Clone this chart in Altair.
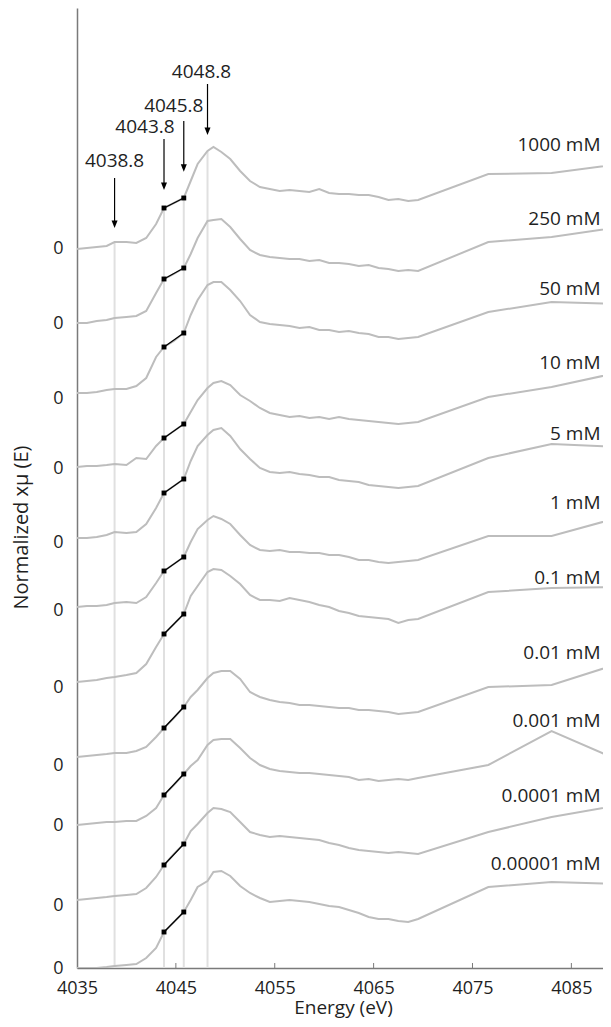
import altair as alt
import pandas as pd

# ---------------- data ----------------
energy = [4035, 4036, 4037, 4038, 4038.8, 4040, 4041, 4042, 4043, 4043.8,
          4044.8, 4045.8, 4046.5, 4047.2, 4048.2, 4048.8, 4049.6, 4050.5, 4051.5, 4052.5,
          4053.5, 4054.5, 4055.5, 4056.5, 4057.5, 4058.5, 4059.5, 4060.5, 4061.5, 4062.5,
          4063.5, 4064.5, 4065.5, 4066.5, 4067.5, 4068.5, 4069.5, 4076.6, 4083.0, 4090.0]

series_names = ["1000 mM", "250 mM", "50 mM", "10 mM", "5 mM", "1 mM", "0.1 mM",
                "0.01 mM", "0.001 mM", "0.0001 mM", "0.00001 mM"]

# vertical offset of each stacked spectrum
offsets = [7.19, 6.45, 5.75, 5.01, 4.30, 3.61, 2.86, 2.11, 1.43, 0.68, 0.00]

h_1000 = [0.00, 0.01, 0.02, 0.03, 0.07, 0.07, 0.06, 0.11, 0.25, 0.41, 0.46, 0.51, 0.68, 0.85, 0.98, 1.02, 0.97, 0.90, 0.78, 0.68,
          0.62, 0.60, 0.58, 0.59, 0.58, 0.57, 0.60, 0.56, 0.55, 0.55, 0.54, 0.54, 0.52, 0.49, 0.50, 0.48, 0.49, 0.75, 0.76, 0.85]
h_250 = [0.00, 0.00, 0.02, 0.03, 0.05, 0.06, 0.07, 0.12, 0.30, 0.44, 0.49, 0.55, 0.69, 0.85, 1.02, 1.03, 1.04, 0.96, 0.84, 0.73,
         0.68, 0.66, 0.65, 0.64, 0.64, 0.62, 0.63, 0.60, 0.60, 0.59, 0.57, 0.58, 0.55, 0.54, 0.52, 0.53, 0.52, 0.81, 0.86, 0.96]
h_50 = [0.00, 0.00, 0.01, 0.03, 0.04, 0.04, 0.07, 0.15, 0.36, 0.46, 0.52, 0.60, 0.78, 0.93, 1.08, 1.11, 1.11, 1.03, 0.92, 0.78,
        0.71, 0.69, 0.68, 0.67, 0.65, 0.66, 0.63, 0.63, 0.61, 0.62, 0.60, 0.59, 0.56, 0.56, 0.54, 0.55, 0.56, 0.81, 0.91, 0.89]
h_10 = [0.00, 0.01, 0.01, 0.02, 0.03, 0.02, 0.09, 0.08, 0.21, 0.29, 0.36, 0.43, 0.55, 0.67, 0.79, 0.84, 0.86, 0.82, 0.72, 0.66,
        0.59, 0.54, 0.52, 0.50, 0.51, 0.49, 0.50, 0.48, 0.50, 0.48, 0.47, 0.46, 0.45, 0.44, 0.43, 0.44, 0.45, 0.70, 0.80, 0.95]
h_5 = [0.00, 0.00, 0.01, 0.03, 0.06, 0.05, 0.06, 0.14, 0.30, 0.45, 0.52, 0.59, 0.77, 0.92, 1.03, 1.08, 1.10, 1.02, 0.89, 0.79,
       0.70, 0.66, 0.65, 0.66, 0.64, 0.63, 0.61, 0.61, 0.58, 0.57, 0.56, 0.53, 0.52, 0.51, 0.50, 0.51, 0.52, 0.80, 0.94, 0.91]
h_1 = [0.00, 0.01, 0.01, 0.02, 0.04, 0.05, 0.04, 0.10, 0.24, 0.36, 0.43, 0.50, 0.65, 0.78, 0.87, 0.91, 0.88, 0.83, 0.72, 0.62,
       0.57, 0.56, 0.57, 0.55, 0.55, 0.54, 0.54, 0.52, 0.52, 0.50, 0.47, 0.47, 0.45, 0.44, 0.45, 0.46, 0.47, 0.71, 0.71, 0.90]
h_0p1 = [0.00, 0.01, 0.02, 0.04, 0.05, 0.07, 0.09, 0.18, 0.35, 0.48, 0.58, 0.68, 0.86, 0.96, 1.10, 1.13, 1.12, 1.06, 0.98, 0.87,
         0.82, 0.82, 0.81, 0.84, 0.82, 0.80, 0.77, 0.75, 0.71, 0.69, 0.66, 0.65, 0.64, 0.63, 0.59, 0.62, 0.63, 0.90, 0.94, 0.95]
h_0p01 = [0.00, 0.01, 0.02, 0.03, 0.04, 0.04, 0.06, 0.10, 0.20, 0.29, 0.39, 0.50, 0.60, 0.67, 0.79, 0.84, 0.86, 0.86, 0.78, 0.65,
          0.60, 0.57, 0.55, 0.54, 0.52, 0.52, 0.51, 0.50, 0.49, 0.49, 0.47, 0.47, 0.46, 0.45, 0.43, 0.44, 0.45, 0.70, 0.72, 0.94]
h_0p001 = [0.00, 0.01, 0.02, 0.03, 0.03, 0.04, 0.04, 0.09, 0.17, 0.30, 0.40, 0.51, 0.59, 0.65, 0.80, 0.85, 0.86, 0.86, 0.77, 0.67,
           0.60, 0.56, 0.54, 0.53, 0.52, 0.52, 0.51, 0.50, 0.49, 0.48, 0.45, 0.46, 0.44, 0.45, 0.46, 0.45, 0.47, 0.60, 0.94, 0.64]
h_0p0001 = [0.00, 0.01, 0.02, 0.03, 0.04, 0.05, 0.06, 0.12, 0.23, 0.35, 0.46, 0.56, 0.69, 0.76, 0.87, 0.92, 0.91, 0.88, 0.78, 0.68,
            0.65, 0.63, 0.64, 0.63, 0.62, 0.61, 0.60, 0.57, 0.55, 0.52, 0.50, 0.49, 0.48, 0.47, 0.48, 0.47, 0.46, 0.68, 0.83, 0.95]
h_0p00001 = [0.00, 0.00, 0.00, 0.01, 0.02, 0.03, 0.04, 0.10, 0.20, 0.36, 0.46, 0.56, 0.68, 0.81, 0.87, 0.96, 0.97, 0.92, 0.82, 0.75,
             0.70, 0.66, 0.67, 0.68, 0.67, 0.66, 0.64, 0.62, 0.61, 0.58, 0.55, 0.51, 0.49, 0.49, 0.47, 0.46, 0.49, 0.81, 0.86, 0.84]

heights = [h_1000, h_250, h_50, h_10, h_5, h_1, h_0p1, h_0p01, h_0p001, h_0p0001, h_0p00001]

marker_energies = [4043.8, 4045.8]
guide_energies = [4038.8, 4043.8, 4045.8, 4048.2]
guide_labels = ["4038.8", "4043.8", "4045.8", "4048.8"]

x_ticks = [4035, 4045, 4055, 4065, 4075, 4085]
zero_ticks = [7.20, 6.45, 5.70, 5.00, 4.26, 3.58, 2.81, 2.03, 1.43, 0.63, 0.00]

# ---------------- tables ----------------
rows = []
for name, off, h in zip(series_names, offsets, heights):
    for e, v in zip(energy, h):
        rows.append({"series": name, "E": e, "y": off + v})
df = pd.DataFrame(rows)
mk = df[df["E"].isin(marker_energies)]
guides = df[(df["series"] == series_names[0]) & (df["E"].isin(guide_energies))]
labels_df = pd.DataFrame({"series": series_names, "y": [o + 1.04 for o in offsets]})
ticks_df = pd.DataFrame({"E": x_ticks[1:]})

# ---------------- style ----------------
FONT = "Open Sans"
TXT = "#1f1f1f"
AX = "#7a7a7a"
PLOT_W, PLOT_H = 526, 960

xscale = alt.Scale(domain=[4035, 4088.2], nice=False, zero=False)
yscale = alt.Scale(domain=[0, 9.6], nice=False, zero=False)

xaxis = alt.Axis(values=x_ticks, format="d", ticks=False, tickSize=0, grid=False,
                 domainColor=AX, domainWidth=1.5, labelFont=FONT, labelFontSize=18,
                 labelColor=TXT, labelPadding=11, labelFlush=False,
                 titleFont=FONT, titleFontSize=19, titleColor=TXT, titleFontWeight="normal",
                 titleX=266, titleY=45, titleBaseline="alphabetic")
yaxis = alt.Axis(values=zero_ticks, labelExpr="'0'", ticks=False, tickSize=0, grid=False,
                 domainColor=AX, domainWidth=1.5, labelFont=FONT, labelFontSize=18,
                 labelColor=TXT, labelPadding=14, labelFlush=False, labelOverlap=False,
                 titleFont=FONT, titleFontSize=20, titleColor=TXT, titleFontWeight="normal",
                 titleX=-56, titleY=519, titleBaseline="middle", titleAngle=270)

X = alt.X("E:Q", scale=xscale, axis=xaxis, title="Energy (eV)")
Y = alt.Y("y:Q", scale=yscale, axis=yaxis, title="Normalized xμ (E)")

guide_layer = alt.Chart(guides).mark_rule(color="#e0e0e0", strokeWidth=2).encode(
    x=X, y=Y, y2=alt.value(PLOT_H))

curve_layer = alt.Chart(df).mark_line(color="#bdbdbd", strokeWidth=2, clip=True).encode(
    x=X, y=Y, detail="series:N")

seg_layer = alt.Chart(mk).mark_line(color="black", strokeWidth=1.3).encode(
    x=X, y=Y, detail="series:N")
sq_layer = alt.Chart(mk).mark_point(shape="square", filled=True, size=24, color="black",
                                    opacity=1).encode(x=X, y=Y)

tick_layer = alt.Chart(ticks_df).mark_rule(color=AX, strokeWidth=1).encode(
    x=X, y=alt.value(PLOT_H), y2=alt.value(PLOT_H - 5))

label_layer = alt.Chart(labels_df).mark_text(
    align="right", baseline="middle", font=FONT, fontSize=19, color=TXT).encode(
    x=alt.value(523.5), y=Y, text="series:N")

# arrow annotations: (shaft top, arrow tip, label centre y, label dx) in plot pixels
arrow_layout = [(170, 220, 152.7, 0), (131, 182, 119, -19), (113, 163.7, 98, -10), (76, 127, 63.7, -6)]
ARROW_HEAD = "M-0.6,-1.5L0.6,-1.5L0,0Z"
arrow_layers = []
for e, lab, (top, tip, ly, dx) in zip(guide_energies, guide_labels, arrow_layout):
    d = pd.DataFrame({"E": [e], "t": [lab]})
    arrow_layers.append(alt.Chart(d).mark_rule(color="black", strokeWidth=1.2).encode(
        x=X, y=alt.value(top), y2=alt.value(tip - 3)))
    arrow_layers.append(alt.Chart(d).mark_point(shape=ARROW_HEAD, filled=True, size=100,
                                                color="black", opacity=1).encode(
        x=X, y=alt.value(tip)))
    arrow_layers.append(alt.Chart(d).mark_text(dx=dx, baseline="middle", align="center",
                                               font=FONT, fontSize=19, color=TXT).encode(
        x=X, y=alt.value(ly), text="t:N"))

chart = alt.layer(guide_layer, curve_layer, seg_layer, sq_layer, tick_layer, label_layer,
                  *arrow_layers).properties(
    width=PLOT_W, height=PLOT_H,
    autosize=alt.AutoSizeParams(type="none"),
    padding={"left": 69, "top": 0, "right": 0, "bottom": 51},
).configure_view(stroke=None)

chart.save("out.html", embed_options={"renderer": "svg", "actions": False})
